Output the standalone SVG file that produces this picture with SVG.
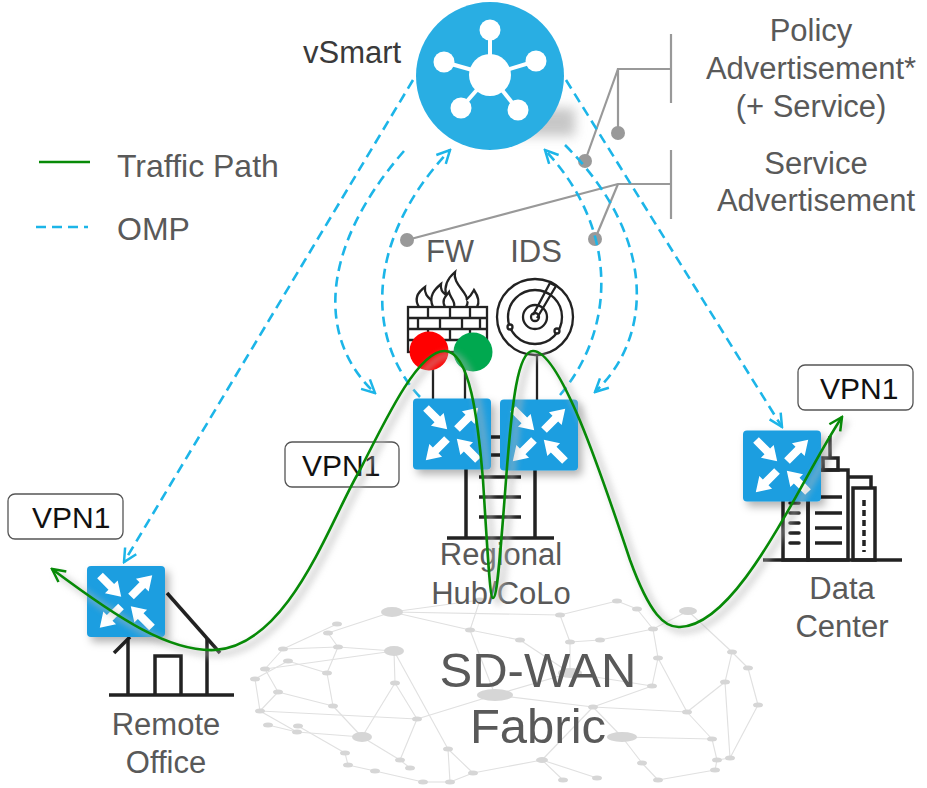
<svg xmlns="http://www.w3.org/2000/svg" xmlns:xlink="http://www.w3.org/1999/xlink" width="927" height="788" viewBox="0 0 927 788">
  <style>
    .lbl { font-family: "Liberation Sans", Arial, sans-serif; font-size: 31px; fill: #595959; }
    .dark { fill: #3a3a3a; }
    .vpn { font-family: "Liberation Sans", Arial, sans-serif; font-size: 30px; fill: #111; }
    .vpnbox { fill: #fff; stroke: #555; stroke-width: 1.3; }
    .omp { fill: none; stroke: #1cb5e8; stroke-width: 2.6; stroke-dasharray: 10 6; }
    .traffic { fill: none; stroke: #078a07; stroke-width: 2.6; }
    .ink { fill: none; stroke: #222; stroke-width: 3.5; }
    .thin { fill: none; stroke: #222; stroke-width: 2.3; }
    .lead { fill: none; stroke: #999; stroke-width: 2.2; }
    .dot { fill: #999; }
    .mesh line { stroke: #e0e0e0; stroke-width: 1.1; }
    .mesh ellipse { fill: #d6d6d6; }
  </style>
  <defs>
    <filter id="soft-shadow" x="-30%" y="-30%" width="170%" height="170%">
      <feDropShadow dx="4" dy="5" stdDeviation="4" flood-color="#000" flood-opacity="0.3"/>
    </filter>
    <filter id="blur6" x="-50%" y="-100%" width="200%" height="300%">
      <feGaussianBlur stdDeviation="6"/>
    </filter>
    <filter id="blur3" x="-10%" y="-10%" width="120%" height="120%">
      <feGaussianBlur stdDeviation="3"/>
    </filter>
    <marker id="omp-arrow" viewBox="0 0 16 16" refX="14" refY="8" markerWidth="16" markerHeight="16" markerUnits="userSpaceOnUse" orient="auto">
      <path d="M1,1.5 L14,8 L1,14.5" fill="none" stroke="#1cb5e8" stroke-width="2.5"/>
    </marker>
    <marker id="traffic-arrow" viewBox="0 0 16 16" refX="14" refY="8" markerWidth="16" markerHeight="16" markerUnits="userSpaceOnUse" orient="auto-start-reverse">
      <path d="M1,1.5 L14,8 L1,14.5" fill="none" stroke="#078a07" stroke-width="2.5"/>
    </marker>
    <!-- diagonal arrow of the router glyph, pointing along +x -->
    <polygon id="r-arrow" points="0,-4 16,-4 16,-9 30,0 16,9 16,4 0,4" fill="#fff"/>
    <!-- router: blue tile with two inward and two outward arrows, centred on 0,0 -->
    <g id="router">
      <rect x="-39" y="-35.5" width="78" height="71" rx="4" fill="#1b9ee0"/>
      <use xlink:href="#r-arrow" transform="translate(-26,-26) rotate(45)"/>
      <use xlink:href="#r-arrow" transform="translate(5,-5) rotate(-45)"/>
      <use xlink:href="#r-arrow" transform="translate(-5,5) rotate(135)"/>
      <use xlink:href="#r-arrow" transform="translate(26,26) rotate(-135)"/>
    </g>
  </defs>

  <rect width="927" height="788" fill="#fff"/>

  <!-- SD-WAN fabric mesh -->
  <g id="fabric-mesh" class="mesh">
    <line x1="392" y1="612" x2="480" y2="600"/>
    <line x1="392" y1="612" x2="328" y2="633"/>
    <line x1="392" y1="612" x2="470" y2="630"/>
    <line x1="337" y1="624" x2="283" y2="649"/>
    <line x1="328" y1="633" x2="338" y2="647"/>
    <line x1="283" y1="649" x2="265" y2="669"/>
    <line x1="283" y1="649" x2="338" y2="647"/>
    <line x1="338" y1="647" x2="394" y2="651"/>
    <line x1="394" y1="651" x2="448" y2="749"/>
    <line x1="394" y1="651" x2="395" y2="683"/>
    <line x1="288" y1="661" x2="327" y2="673"/>
    <line x1="288" y1="661" x2="255" y2="679"/>
    <line x1="265" y1="669" x2="278" y2="692"/>
    <line x1="327" y1="673" x2="333" y2="706"/>
    <line x1="327" y1="673" x2="338" y2="647"/>
    <line x1="278" y1="692" x2="260" y2="711"/>
    <line x1="278" y1="692" x2="333" y2="706"/>
    <line x1="333" y1="706" x2="362" y2="737"/>
    <line x1="395" y1="683" x2="362" y2="737"/>
    <line x1="395" y1="683" x2="417" y2="719"/>
    <line x1="260" y1="711" x2="297" y2="732"/>
    <line x1="255" y1="679" x2="260" y2="711"/>
    <line x1="268" y1="725" x2="297" y2="732"/>
    <line x1="298" y1="726" x2="345" y2="753"/>
    <line x1="297" y1="732" x2="362" y2="737"/>
    <line x1="362" y1="737" x2="400" y2="760"/>
    <line x1="417" y1="719" x2="495" y2="695"/>
    <line x1="417" y1="719" x2="400" y2="760"/>
    <line x1="495" y1="695" x2="570" y2="673"/>
    <line x1="495" y1="695" x2="470" y2="630"/>
    <line x1="495" y1="695" x2="593" y2="707"/>
    <line x1="470" y1="630" x2="520" y2="640"/>
    <line x1="470" y1="630" x2="480" y2="600"/>
    <line x1="448" y1="749" x2="473" y2="773"/>
    <line x1="448" y1="749" x2="450" y2="782"/>
    <line x1="345" y1="753" x2="348" y2="765"/>
    <line x1="400" y1="760" x2="410" y2="768"/>
    <line x1="348" y1="765" x2="375" y2="771"/>
    <line x1="375" y1="771" x2="423" y2="782"/>
    <line x1="423" y1="782" x2="450" y2="782"/>
    <line x1="450" y1="782" x2="473" y2="773"/>
    <line x1="473" y1="773" x2="542" y2="760"/>
    <line x1="542" y1="760" x2="563" y2="780"/>
    <line x1="542" y1="760" x2="597" y2="778"/>
    <line x1="542" y1="760" x2="593" y2="707"/>
    <line x1="560" y1="615" x2="570" y2="642"/>
    <line x1="560" y1="615" x2="617" y2="601"/>
    <line x1="570" y1="642" x2="570" y2="673"/>
    <line x1="617" y1="601" x2="637" y2="609"/>
    <line x1="637" y1="609" x2="653" y2="629"/>
    <line x1="653" y1="629" x2="688" y2="611"/>
    <line x1="653" y1="629" x2="658" y2="658"/>
    <line x1="688" y1="611" x2="732" y2="652"/>
    <line x1="658" y1="658" x2="652" y2="686"/>
    <line x1="658" y1="658" x2="687" y2="712"/>
    <line x1="652" y1="686" x2="593" y2="707"/>
    <line x1="593" y1="707" x2="622" y2="737"/>
    <line x1="622" y1="737" x2="642" y2="763"/>
    <line x1="622" y1="737" x2="712" y2="739"/>
    <line x1="687" y1="712" x2="712" y2="739"/>
    <line x1="687" y1="712" x2="725" y2="682"/>
    <line x1="712" y1="739" x2="717" y2="760"/>
    <line x1="717" y1="760" x2="730" y2="758"/>
    <line x1="730" y1="758" x2="725" y2="682"/>
    <line x1="725" y1="682" x2="732" y2="652"/>
    <line x1="642" y1="763" x2="658" y2="780"/>
    <line x1="658" y1="780" x2="715" y2="770"/>
    <line x1="715" y1="770" x2="717" y2="760"/>
    <line x1="570" y1="673" x2="652" y2="686"/>
    <line x1="758" y1="705" x2="730" y2="758"/>
    <line x1="758" y1="705" x2="748" y2="668"/>
    <line x1="748" y1="668" x2="732" y2="652"/>
    <line x1="600" y1="640" x2="570" y2="642"/>
    <line x1="600" y1="640" x2="653" y2="629"/>
    <line x1="520" y1="640" x2="570" y2="673"/>
    <line x1="260" y1="711" x2="417" y2="719"/>
    <line x1="593" y1="707" x2="687" y2="712"/>
    <line x1="392" y1="612" x2="560" y2="615"/>
    <line x1="265" y1="669" x2="394" y2="651"/>
    <ellipse cx="392" cy="612" rx="11" ry="5"/>
    <ellipse cx="337" cy="624" rx="5" ry="2.5"/>
    <ellipse cx="328" cy="633" rx="5" ry="2.5"/>
    <ellipse cx="283" cy="649" rx="5" ry="2.5"/>
    <ellipse cx="338" cy="647" rx="5" ry="2.5"/>
    <ellipse cx="394" cy="651" rx="10" ry="5"/>
    <ellipse cx="288" cy="661" rx="5" ry="2.5"/>
    <ellipse cx="265" cy="669" rx="5" ry="2.5"/>
    <ellipse cx="255" cy="679" rx="5" ry="2.5"/>
    <ellipse cx="327" cy="673" rx="5" ry="2.5"/>
    <ellipse cx="278" cy="692" rx="5" ry="2.5"/>
    <ellipse cx="333" cy="706" rx="5" ry="2.5"/>
    <ellipse cx="395" cy="683" rx="5" ry="2.5"/>
    <ellipse cx="260" cy="711" rx="5" ry="2.5"/>
    <ellipse cx="298" cy="726" rx="5" ry="2.5"/>
    <ellipse cx="297" cy="732" rx="5" ry="2.5"/>
    <ellipse cx="362" cy="737" rx="10" ry="5"/>
    <ellipse cx="268" cy="725" rx="5" ry="2.5"/>
    <ellipse cx="417" cy="719" rx="5" ry="2.5"/>
    <ellipse cx="495" cy="695" rx="18" ry="6"/>
    <ellipse cx="470" cy="630" rx="5" ry="2.5"/>
    <ellipse cx="448" cy="749" rx="5" ry="2.5"/>
    <ellipse cx="345" cy="753" rx="5" ry="2.5"/>
    <ellipse cx="400" cy="760" rx="5" ry="2.5"/>
    <ellipse cx="410" cy="768" rx="5" ry="2.5"/>
    <ellipse cx="348" cy="765" rx="5" ry="2.5"/>
    <ellipse cx="375" cy="771" rx="5" ry="2.5"/>
    <ellipse cx="423" cy="782" rx="5" ry="2.5"/>
    <ellipse cx="450" cy="782" rx="5" ry="2.5"/>
    <ellipse cx="473" cy="773" rx="5" ry="2.5"/>
    <ellipse cx="542" cy="760" rx="6" ry="3"/>
    <ellipse cx="563" cy="780" rx="5" ry="2.5"/>
    <ellipse cx="560" cy="615" rx="5" ry="2.5"/>
    <ellipse cx="570" cy="642" rx="5" ry="2.5"/>
    <ellipse cx="617" cy="601" rx="5" ry="2.5"/>
    <ellipse cx="637" cy="609" rx="5" ry="2.5"/>
    <ellipse cx="653" cy="629" rx="5" ry="2.5"/>
    <ellipse cx="688" cy="611" rx="9" ry="4"/>
    <ellipse cx="658" cy="658" rx="5" ry="2.5"/>
    <ellipse cx="652" cy="686" rx="5" ry="2.5"/>
    <ellipse cx="593" cy="707" rx="5" ry="2.5"/>
    <ellipse cx="622" cy="737" rx="15" ry="5"/>
    <ellipse cx="687" cy="712" rx="5" ry="2.5"/>
    <ellipse cx="642" cy="763" rx="5" ry="2.5"/>
    <ellipse cx="712" cy="739" rx="5" ry="2.5"/>
    <ellipse cx="717" cy="760" rx="5" ry="2.5"/>
    <ellipse cx="730" cy="758" rx="5" ry="2.5"/>
    <ellipse cx="725" cy="682" rx="5" ry="2.5"/>
    <ellipse cx="732" cy="652" rx="5" ry="2.5"/>
    <ellipse cx="597" cy="778" rx="5" ry="2.5"/>
    <ellipse cx="658" cy="780" rx="5" ry="2.5"/>
    <ellipse cx="715" cy="770" rx="5" ry="2.5"/>
    <ellipse cx="570" cy="673" rx="12" ry="5"/>
    <ellipse cx="480" cy="600" rx="5" ry="2.5"/>
    <ellipse cx="758" cy="705" rx="5" ry="2.5"/>
    <ellipse cx="748" cy="668" rx="5" ry="2.5"/>
    <ellipse cx="520" cy="640" rx="5" ry="2.5"/>
    <ellipse cx="600" cy="640" rx="5" ry="2.5"/>
  </g>

  <g id="fabric-label">
    <text class="lbl" x="538" y="687" text-anchor="middle" style="font-size:49px">SD-WAN</text>
    <text class="lbl" x="538" y="743" text-anchor="middle" style="font-size:49px">Fabric</text>
  </g>

  <!-- legend -->
  <g id="legend">
    <line x1="39" y1="162" x2="90" y2="162" stroke="#078a07" stroke-width="2.6"/>
    <text class="lbl" x="117" y="177" style="font-size:32px">Traffic Path</text>
    <line x1="36" y1="227" x2="88" y2="227" class="omp"/>
    <text class="lbl" x="117" y="240" style="font-size:32px">OMP</text>
  </g>

  <!-- vSmart controller -->
  <g id="vsmart">
    <rect x="470" y="108" width="105" height="28" fill="#9a9a9a" opacity="0.55" filter="url(#blur6)"/>
    <circle cx="490" cy="76" r="74" fill="#29aee3"/>
    <g stroke="#fff" stroke-width="4">
      <line x1="490" y1="75" x2="490" y2="30"/>
      <line x1="490" y1="75" x2="444" y2="62"/>
      <line x1="490" y1="75" x2="536" y2="61"/>
      <line x1="490" y1="75" x2="461" y2="108"/>
      <line x1="490" y1="75" x2="518" y2="110"/>
    </g>
    <g fill="#fff">
      <circle cx="490" cy="75" r="21"/>
      <circle cx="490" cy="30" r="10.5"/>
      <circle cx="444" cy="62" r="10.5"/>
      <circle cx="536" cy="61" r="10.5"/>
      <circle cx="461" cy="108" r="10.5"/>
      <circle cx="518" cy="110" r="10.5"/>
    </g>
    <text class="lbl dark" x="303" y="63">vSmart</text>
  </g>

  <!-- advertisement call-outs -->
  <g id="policy-callout">
    <line class="lead" x1="671" y1="34" x2="671" y2="103"/>
    <polyline class="lead" points="671,69 618,69 618,133"/>
    <line class="lead" x1="618" y1="69" x2="585" y2="161"/>
    <circle class="dot" cx="618" cy="133" r="7"/>
    <circle class="dot" cx="585" cy="161" r="7"/>
    <text class="lbl" text-anchor="middle" x="811" y="41">Policy</text>
    <text class="lbl" text-anchor="middle" x="811" y="79">Advertisement*</text>
    <text class="lbl" text-anchor="middle" x="811" y="117">(+ Service)</text>
  </g>
  <g id="service-callout">
    <line class="lead" x1="671" y1="150" x2="671" y2="219"/>
    <polyline class="lead" points="671,184 618,184 407,240"/>
    <line class="lead" x1="618" y1="184" x2="595" y2="239"/>
    <circle class="dot" cx="407" cy="240" r="7"/>
    <circle class="dot" cx="595" cy="239" r="7"/>
    <text class="lbl" text-anchor="middle" x="816" y="174">Service</text>
    <text class="lbl" text-anchor="middle" x="816" y="211">Advertisement</text>
  </g>

  <!-- regional hub: firewall, IDS, two routers on a rack -->
  <g id="regional-hub">
    <g class="thin">
      <line x1="433" y1="362" x2="433" y2="400"/>
      <line x1="465" y1="362" x2="465" y2="400"/>
      <line x1="537" y1="354" x2="537" y2="400"/>
    </g>
    <g class="ink">
      <line x1="466" y1="460" x2="466" y2="538"/>
      <line x1="535" y1="460" x2="535" y2="538"/>
      <line x1="447" y1="538" x2="554" y2="538"/>
      <line x1="479" y1="437" x2="521" y2="437"/>
      <line x1="479" y1="455" x2="521" y2="455"/>
      <line x1="479" y1="477" x2="521" y2="477"/>
      <line x1="479" y1="497" x2="521" y2="497"/>
      <line x1="479" y1="517" x2="521" y2="517"/>
    </g>
    <use xlink:href="#router" x="452" y="434" filter="url(#soft-shadow)"/>
    <use xlink:href="#router" x="539" y="435" filter="url(#soft-shadow)"/>
    <text class="lbl" x="501" y="565" text-anchor="middle">Regional</text>
    <text class="lbl" x="501" y="604" text-anchor="middle">Hub/CoLo</text>
  </g>

  <g id="firewall">
    <text class="lbl" x="450" y="262" text-anchor="middle">FW</text>
    <g class="thin" style="fill:#fff">
      <path d="M419,307 C414,299 418,292 425,287 C424,295 429,298 433,302"/>
      <path d="M433,307 C428,296 435,289 441,284 C440,290 443,293 446,295 C444,286 448,278 455,272 C453,282 462,288 466,296 C468,300 468,304 466,307"/>
      <path d="M445,307 C441,300 446,296 449,292 C450,298 456,301 454,307"/>
      <path d="M466,300 C470,297 472,294 474,290 C478,296 480,302 477,307"/>
      <rect x="408" y="307" width="79" height="45"/>
      <line x1="408" y1="318" x2="487" y2="318"/>
      <line x1="408" y1="329" x2="487" y2="329"/>
      <line x1="408" y1="340" x2="487" y2="340"/>
      <line x1="428" y1="307" x2="428" y2="318"/>
      <line x1="450" y1="307" x2="450" y2="318"/>
      <line x1="470" y1="307" x2="470" y2="318"/>
      <line x1="418" y1="318" x2="418" y2="329"/>
      <line x1="440" y1="318" x2="440" y2="329"/>
      <line x1="462" y1="318" x2="462" y2="329"/>
      <line x1="480" y1="318" x2="480" y2="329"/>
      <line x1="428" y1="329" x2="428" y2="340"/>
      <line x1="450" y1="329" x2="450" y2="340"/>
      <line x1="470" y1="329" x2="470" y2="340"/>
    </g>
    <circle cx="429" cy="351" r="19.5" fill="#ff0000"/>
    <circle cx="473" cy="352" r="19.5" fill="#00a84f"/>
  </g>

  <g id="ids">
    <text class="lbl" x="536" y="262" text-anchor="middle">IDS</text>
    <g class="thin">
      <circle cx="535" cy="317" r="38"/>
      <circle cx="535" cy="317" r="27"/>
      <circle cx="535" cy="317" r="12"/>
      <circle cx="535" cy="317" r="4"/>
      <path d="M533,315 L550,283 L556,286 L537,318"/>
      <circle cx="510" cy="327" r="2.5" style="fill:#fff"/>
      <circle cx="557" cy="331" r="2.5" style="fill:#fff"/>
    </g>
  </g>

  <!-- remote office -->
  <g id="remote-office">
    <g class="ink">
      <line x1="114" y1="653" x2="130" y2="637"/>
      <line x1="167" y1="593" x2="220" y2="653"/>
      <line x1="128" y1="640" x2="128" y2="695"/>
      <line x1="207" y1="638" x2="207" y2="695"/>
      <polyline points="155,695 155,656 181,656 181,695"/>
      <line x1="109" y1="695" x2="234" y2="695"/>
    </g>
    <use xlink:href="#router" x="126" y="601.5" filter="url(#soft-shadow)"/>
    <text class="lbl" x="166" y="735" text-anchor="middle">Remote</text>
    <text class="lbl" x="166" y="773" text-anchor="middle">Office</text>
  </g>

  <!-- data center -->
  <g id="data-center">
    <g class="ink">
      <line x1="830" y1="436" x2="830" y2="458"/>
      <rect x="823" y="458" width="15" height="12"/>
      <rect x="808" y="470" width="40" height="90"/>
      <rect x="783" y="490" width="25" height="70"/>
      <polyline points="848,477 871,477 871,488"/>
      <rect x="853" y="488" width="22" height="72"/>
      <line x1="763" y1="560" x2="902" y2="560"/>
      <line x1="815" y1="497" x2="842" y2="497"/>
      <line x1="815" y1="513" x2="842" y2="513"/>
      <line x1="815" y1="528" x2="842" y2="528"/>
      <line x1="815" y1="543" x2="842" y2="543"/>
      <line x1="864" y1="500" x2="864" y2="552" stroke-dasharray="6 4"/>
      <g stroke-linecap="round">
        <line x1="790" y1="503" x2="799" y2="503"/>
        <line x1="790" y1="513" x2="799" y2="513"/>
        <line x1="790" y1="523" x2="799" y2="523"/>
        <line x1="790" y1="533" x2="799" y2="533"/>
        <line x1="790" y1="543" x2="799" y2="543"/>
      </g>
    </g>
    <use xlink:href="#router" x="782" y="466" filter="url(#soft-shadow)"/>
    <text class="lbl" x="842" y="599" text-anchor="middle">Data</text>
    <text class="lbl" x="842" y="637" text-anchor="middle">Center</text>
  </g>

  <!-- VPN tags -->
  <g id="vpn-remote">
    <rect class="vpnbox" x="8" y="494" width="115" height="45" rx="7"/>
    <text class="vpn" x="32" y="528">VPN1</text>
  </g>
  <g id="vpn-hub">
    <rect class="vpnbox" x="285" y="442" width="114" height="45" rx="7"/>
    <text class="vpn" x="302" y="476">VPN1</text>
  </g>
  <g id="vpn-dc">
    <rect class="vpnbox" x="798" y="365" width="115" height="45" rx="7"/>
    <text class="vpn" x="820" y="399">VPN1</text>
  </g>

  <!-- connectors -->
  <g id="connectors">
    <!-- OMP sessions -->
    <path class="omp" d="M413,80 L124,562" marker-end="url(#omp-arrow)"/>
    <path class="omp" d="M566,80 L782,427" marker-end="url(#omp-arrow)"/>
    <path class="omp" d="M404,151 C318,250 318,340 375,393" marker-end="url(#omp-arrow)"/>
    <path class="omp" d="M420,397 C370,345 360,245 450,150" marker-end="url(#omp-arrow)"/>
    <path class="omp" d="M560,395 C615,330 620,230 545,150" marker-end="url(#omp-arrow)"/>
    <path class="omp" d="M565,145 C655,235 655,335 595,392" marker-end="url(#omp-arrow)"/>
    <!-- traffic path -->
    <path d="M52,569 C120,620 170,652 215,650 C290,645 330,520 360,470 C390,410 420,350 445,351 C470,352 478,420 483,480 C488,560 490,598 493,598 C497,598 500,560 506,480 C512,400 518,351 533,351 C560,351 600,470 630,560 C650,615 665,628 680,627 C740,625 800,480 842,417" fill="none" stroke="#b8b8b8" stroke-width="7" opacity="0.5" transform="translate(5,4)" filter="url(#blur3)"/>
    <path class="traffic" d="M52,569 C120,620 170,652 215,650 C290,645 330,520 360,470 C390,410 420,350 445,351 C470,352 478,420 483,480 C488,560 490,598 493,598 C497,598 500,560 506,480 C512,400 518,351 533,351 C560,351 600,470 630,560 C650,615 665,628 680,627 C740,625 800,480 842,417" marker-start="url(#traffic-arrow)" marker-end="url(#traffic-arrow)"/>
  </g>
</svg>
